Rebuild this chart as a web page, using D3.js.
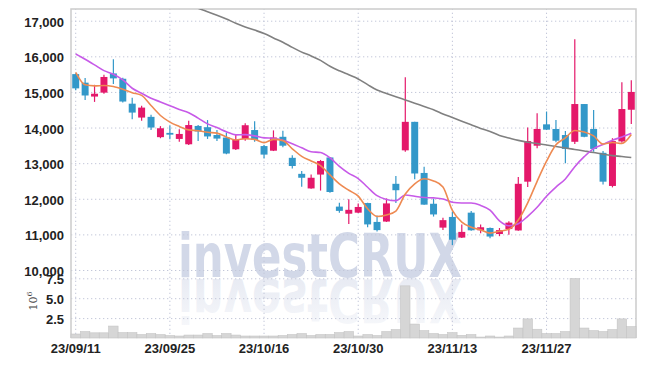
<!DOCTYPE html>
<html>
<head>
<meta charset="utf-8">
<script src="https://cdn.jsdelivr.net/npm/d3@7/dist/d3.min.js"></script>
<style>
  body { margin: 0; background: #fff; }
  .tick text { font-family: "Liberation Sans", Arial, sans-serif; font-weight: bold; font-size: 13px; fill: #222; }
</style>
</head>
<body>
<div id="chart"></div>
<script>
// trading days shown on the chart
var dates = ["23/09/11","23/09/12","23/09/13","23/09/14","23/09/15","23/09/18","23/09/19","23/09/20","23/09/21","23/09/22",
             "23/09/25","23/09/26","23/09/27","23/10/04","23/10/05","23/10/06","23/10/10","23/10/11","23/10/12","23/10/13",
             "23/10/16","23/10/17","23/10/18","23/10/19","23/10/20","23/10/23","23/10/24","23/10/25","23/10/26","23/10/27",
             "23/10/30","23/10/31","23/11/01","23/11/02","23/11/03","23/11/06","23/11/07","23/11/08","23/11/09","23/11/10",
             "23/11/13","23/11/14","23/11/15","23/11/16","23/11/17","23/11/20","23/11/21","23/11/22","23/11/23","23/11/24",
             "23/11/27","23/11/28","23/11/29","23/11/30","23/12/01","23/12/04","23/12/05","23/12/06","23/12/07","23/12/08"];
var tickDates = ["23/09/11","23/09/25","23/10/16","23/10/30","23/11/13","23/11/27"];

var openP = [15500,15260,14870,14980,15520,15370,14670,14280,14300,13730,
             13850,13680,13530,14045,14010,13790,13720,13390,13680,13930,
             13480,13350,13740,13150,12700,12290,12680,13160,11780,11580,
             11610,11880,11350,11360,12420,13360,14160,12725,11860,11190,
             11490,10910,11610,11115,11180,11010,11150,11110,12480,13490,
             14090,13960,13790,13600,14660,13960,13290,12360,13610,14500];
var highP = [15520,15390,15200,15480,15920,15400,14840,14610,14360,14040,
             14060,13950,14190,14070,14210,13930,13860,13810,14120,14180,
             13510,13920,13910,13220,12780,12680,13090,13170,11890,11990,
             11870,11890,11530,12010,12640,15410,14160,12900,12000,11470,
             11640,11280,11660,11280,11190,11180,11370,12610,14000,14400,
             14450,14210,13900,16480,14660,14490,13340,13700,15270,15330];
var lowP = [15050,14770,14720,14950,15220,14700,14230,14190,13930,13700,
            13670,13600,13510,13620,13680,13620,13250,13370,13630,13600,
            13130,13340,13450,12850,12340,12280,12230,12170,11610,11290,
            11600,11200,11080,11350,11880,13320,12550,11830,11500,11120,
            10700,10900,11100,11030,10890,10950,10990,11100,12330,13420,
            13930,13590,13000,13540,13730,13320,12400,12320,13570,14100];
var closeP = [15100,14900,14950,15420,15380,14730,14420,14560,14000,13980,
              13800,13820,14070,13890,13750,13690,13270,13660,14065,13650,
              13240,13720,13490,12920,12590,12590,13060,12190,11660,11690,
              11770,11280,11120,11870,12240,14160,12710,11835,11560,11400,
              10850,11070,11115,11200,10940,11120,11330,12420,13620,13960,
              13940,13630,13400,14660,13740,13400,12480,13620,14520,15000];
var volume = [0.50,0.80,0.65,0.65,1.50,0.67,0.67,0.42,0.55,0.42,
              0.30,0.25,0.37,0.37,0.55,0.30,0.55,0.37,0.25,0.25,
              0.25,0.25,0.30,0.42,0.55,0.30,0.42,0.42,0.67,0.80,
              0.25,0.42,0.30,0.80,1.05,6.55,1.75,0.92,0.55,0.42,
              0.67,0.33,0.42,0.12,0.25,0.12,0.25,1.25,2.40,1.10,
              0.55,0.55,0.80,7.45,1.25,0.92,0.80,1.05,2.40,1.42]; // millions

// moving averages (5, 10 and 60 days)
var ma5 = [15550,15200,15170,15180,15150,15076,14980,14902,14618,14338,
           14152,14032,13934,13912,13866,13844,13734,13652,13687,13667,
           13577,13667,13633,13404,13192,13062,12930,12670,12418,12238,
           12074,11718,11504,11546,11656,12134,12420,12563,12501,12333,
           11671,11343,11199,11127,11035,11089,11141,11402,11886,12490,
           13054,13514,13710,13918,13874,13766,13536,13580,13552,13804];
var ma10 = [16067,15918,15758,15598,15497,15337,15104,14963,14822,14720,
            14614,14506,14418,14265,14102,13998,13883,13793,13800,13767,
            13711,13701,13643,13546,13430,13320,13299,13152,12911,12715,
            12568,12324,12087,11982,11947,12104,12069,12034,12024,11995,
            11903,11882,11881,11814,11684,11380,11242,11301,11507,11763,
            12072,12328,12556,12902,13182,13410,13525,13645,13735,13839];
var ma60 = [null,null,null,null,null,null,null,null,null,null,
            17640,17550,17440,17350,17250,17150,17045,16930,16826,16736,
            16640,16517,16396,16250,16118,16011,15885,15722,15593,15480,
            15365,15205,15053,14958,14865,14775,14685,14590,14500,14382,
            14281,14180,14076,13975,13890,13778,13708,13640,13587,13553,
            13511,13469,13427,13385,13343,13300,13250,13211,13188,13160];

var priceTicks = [10000,11000,12000,13000,14000,15000,16000,17000];
var volTicks = [2.5,5.0,7.5];

var width = 645, height = 366;
var pLeft = 71, pRight = 636, pTop = 9, pBottom = 338;

var upColor = "#e4186a", downColor = "#3398c9";

var svg = d3.select("#chart")
    .append("svg")
    .attr("width", width)
    .attr("height", height);

var defs = svg.append("defs");
defs.append("clipPath").attr("id", "plotClip")
    .append("rect")
    .attr("x", pLeft).attr("y", pTop)
    .attr("width", pRight - pLeft).attr("height", pBottom - pTop);

var x = d3.scaleBand().domain(dates).range([pLeft, pRight]).padding(0);
var y = d3.scaleLinear().domain([10000, 17000]).range([270, 20.7]);
var yVol = d3.scaleLinear().domain([0, 7.5]).range([338, 278.3]);

// grid lines + tick labels
function styleGrid(g) {
    g.select(".domain").remove();
    g.selectAll(".tick line")
        .attr("stroke", "#c3c7d9")
        .attr("stroke-width", 1)
        .attr("stroke-dasharray", "1.3,2.7");
}

// watermark and its reflection (behind everything)
var wm = svg.append("g");
wm.append("text")
    .attr("x", 178).attr("y", 277)
    .attr("textLength", 284).attr("lengthAdjust", "spacingAndGlyphs")
    .attr("font-family", "DejaVu Sans, sans-serif")
    .attr("font-weight", "bold").attr("font-size", 60)
    .attr("fill", "#d2d8e8")
    .text("investCRUX");

var grad = defs.append("linearGradient")
    .attr("id", "fade").attr("x1", 0).attr("y1", 0).attr("x2", 0).attr("y2", 1);
grad.append("stop").attr("offset", "0%").attr("stop-color", "#d2d8e8").attr("stop-opacity", 0.15);
grad.append("stop").attr("offset", "100%").attr("stop-color", "#d2d8e8").attr("stop-opacity", 0.6);

wm.append("text")
    .attr("transform", "translate(0,556) scale(1,-1)")
    .attr("x", 178).attr("y", 277)
    .attr("textLength", 284).attr("lengthAdjust", "spacingAndGlyphs")
    .attr("font-family", "DejaVu Sans, sans-serif")
    .attr("font-weight", "bold").attr("font-size", 60)
    .attr("fill", "url(#fade)")
    .text("investCRUX");

svg.append("g")
    .attr("transform", "translate(" + pLeft + ",0)")
    .call(d3.axisLeft(y).tickValues(priceTicks).tickFormat(d3.format(","))
        .tickSize(-(pRight - pLeft)).tickPadding(7))
    .call(styleGrid)
    .selectAll("text").attr("dy", "0.42em");

svg.append("g")
    .attr("transform", "translate(" + pLeft + ",0)")
    .call(d3.axisLeft(yVol).tickValues(volTicks).tickFormat(d3.format(".1f"))
        .tickSize(-(pRight - pLeft)).tickPadding(7))
    .call(styleGrid)
    .selectAll("text").attr("dy", "0.42em");

svg.append("g")
    .attr("transform", "translate(0," + pBottom + ")")
    .call(d3.axisBottom(x).tickValues(tickDates)
        .tickSize(-(pBottom - pTop)).tickPadding(6))
    .call(styleGrid);

// volume unit label
var unit = svg.append("text")
    .attr("transform", "translate(37,301) rotate(-90)")
    .attr("text-anchor", "middle")
    .attr("font-family", "DejaVu Serif, serif")
    .attr("font-size", 11)
    .attr("fill", "#444");
unit.append("tspan").text("10");
unit.append("tspan").attr("font-size", 8).attr("dy", -5).text("6");

// border
svg.append("path")
    .attr("d", "M" + pLeft + "," + pBottom + "V" + pTop + "H" + pRight + "V" + pBottom)
    .attr("fill", "none")
    .attr("stroke", "#cccccc")
    .attr("stroke-width", 1.5);

// volume bars
svg.append("g")
    .selectAll("rect")
    .data(volume)
    .enter().append("rect")
    .attr("x", function (d, i) { return x(dates[i]); })
    .attr("y", function (d) { return yVol(d); })
    .attr("width", x.bandwidth())
    .attr("height", function (d) { return yVol(0) - yVol(d); })
    .attr("fill", "#d6d6d6")
    .attr("stroke", "#c4c4c4")
    .attr("stroke-width", 0.6);

// candles
var candles = svg.append("g").attr("clip-path", "url(#plotClip)")
    .selectAll("g")
    .data(dates)
    .enter().append("g");

candles.append("line")
    .attr("x1", function (d) { return x(d) + x.bandwidth() / 2; })
    .attr("x2", function (d) { return x(d) + x.bandwidth() / 2; })
    .attr("y1", function (d, i) { return y(highP[i]); })
    .attr("y2", function (d, i) { return y(lowP[i]); })
    .attr("stroke", function (d, i) { return closeP[i] >= openP[i] ? upColor : downColor; })
    .attr("stroke-width", 1.2);

var bodyW = x.bandwidth() * 0.74;
candles.append("rect")
    .attr("x", function (d) { return x(d) + (x.bandwidth() - bodyW) / 2; })
    .attr("y", function (d, i) { return y(Math.max(openP[i], closeP[i])); })
    .attr("width", bodyW)
    .attr("height", function (d, i) { return Math.max(1.5, Math.abs(y(openP[i]) - y(closeP[i]))); })
    .attr("fill", function (d, i) { return closeP[i] >= openP[i] ? upColor : downColor; });

// moving average lines
function maLine(values, color) {
    var line = d3.line()
        .defined(function (d) { return d != null; })
        .x(function (d, i) { return x(dates[i]) + x.bandwidth() / 2; })
        .y(function (d) { return y(d); })
        .curve(d3.curveMonotoneX);
    svg.append("path")
        .attr("clip-path", "url(#plotClip)")
        .attr("d", line(values))
        .attr("fill", "none")
        .attr("stroke", color)
        .attr("stroke-width", 1.6);
}
maLine(ma60, "#808080");
maLine(ma10, "#c75ae8");
maLine(ma5, "#ee8a52");
</script>
</body>
</html>
